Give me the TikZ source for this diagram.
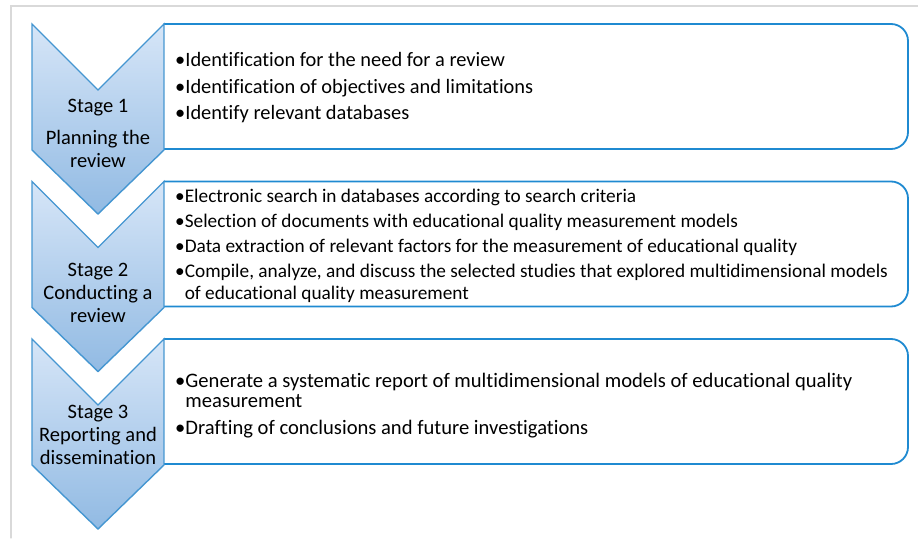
\documentclass[tikz,border=0pt]{standalone}
\usepackage{fontspec}
\setmainfont{Carlito}[Ligatures=NoCommon]
\usepackage{tikz}
\definecolor{chevtop}{rgb}{0.84,0.90,0.97}
\definecolor{chevbot}{rgb}{0.57,0.73,0.89}
\definecolor{chevline}{rgb}{0.27,0.59,0.82}
\definecolor{boxline}{rgb}{0.12,0.54,0.82}
\definecolor{framegray}{rgb}{0.85,0.85,0.85}
\newcommand{\stagefont}{\fontsize{20.5}{23}\selectfont}
\newcommand{\itemfont}{\fontsize{20.4}{26.5}\selectfont}
\tikzset{
  chevron/.style={draw=chevline,line width=1.4pt,top color=chevtop,bottom color=chevbot,line join=miter},
  roundbox/.style={draw=boxline,line width=1.8pt,rounded corners=17pt},
  stagelabel/.style={align=center,inner sep=0pt,font=\stagefont},
  itemlist/.style={align=left,anchor=west,inner sep=0pt,font=\itemfont}
}

\begin{document}
\begin{tikzpicture}[line cap=round,x=1pt,y=-1pt]
\useasboundingbox (0,0) rectangle (918,538);
\draw[framegray,line width=1.2pt] (11,538) -- (11,6) -- (918,6);
% boxes, then chevrons on top
\foreach \t in {24,181.5,339}{
  \draw[roundbox] (164,\t) -- (908,\t) -- (908,\t+125) -- (164,\t+125);
  \draw[chevron] (32,\t) -- (98,\t+66) -- (164,\t) -- (164,\t+126) -- (98,\t+190) -- (32,\t+126) -- cycle;
}
% stage names
\node[stagelabel] (stageone) at (98,133) {Stage 1\\[9pt]Planning the\\review};
\node[stagelabel] (stagetwo) at (98,292.5) {Stage 2\\Conducting a\\review};
\node[stagelabel] (stagethree) at (98,434.5) {Stage 3\\Reporting and\\dissemination};
% activities
\node[itemlist] (listone) at (175,88) {•Identification for the need for a review\\
  •Identification of objectives and limitations\\
  •Identify relevant databases};
\node[itemlist,font=\fontsize{19.3}{25}\selectfont] (listtwo) at (175,245.5) {•Electronic search in databases according to search criteria\\
  •Selection of documents with educational quality measurement models\\
  •Data extraction of relevant factors for the measurement of educational quality\\
  •Compile, analyze, and discuss the selected studies that explored multidimensional models\\[-3pt]
  \hphantom{•}of educational quality measurement};
\node[itemlist,font=\fontsize{20.6}{20.5}\selectfont] (listthree) at (175,405.5) {•Generate a systematic report of multidimensional models of educational quality\\
  \hphantom{•}measurement\\[6pt]
  •Drafting of conclusions and future investigations};
\end{tikzpicture}
\end{document}
